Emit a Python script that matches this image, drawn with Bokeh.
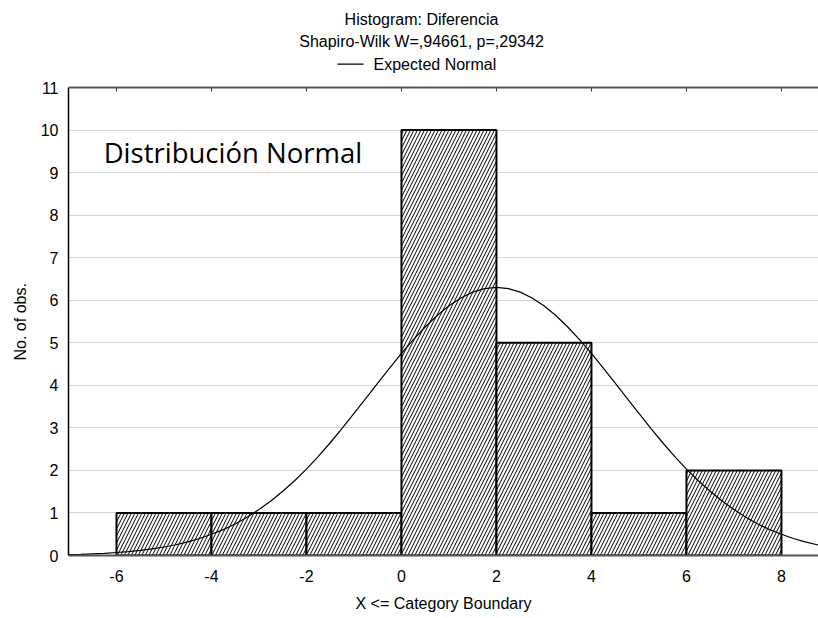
from bokeh.plotting import figure
from bokeh.models import Range1d, FixedTicker, Label, Arrow, Span, Title
from bokeh.embed import file_html
from bokeh.resources import INLINE

# ---- data ----
bin_left = [-6, -4, -2, 0, 2, 4, 6]
bin_right = [-4, -2, 0, 2, 4, 6, 8]
counts = [1, 1, 1, 10, 5, 1, 2]

x_ticks = [-6, -4, -2, 0, 2, 4, 6, 8]
y_ticks = [0, 1, 2, 3, 4, 5, 6, 7, 8, 9, 10, 11]
y_max = 11

# Expected Normal curve, every 0.25 units
curve_x = [-7.0, -6.75, -6.5, -6.25, -6.0, -5.75, -5.5, -5.25, -5.0, -4.75,
           -4.5, -4.25, -4.0, -3.75, -3.5, -3.25, -3.0, -2.75, -2.5, -2.25,
           -2.0, -1.75, -1.5, -1.25, -1.0, -0.75, -0.5, -0.25, 0.0, 0.25,
           0.5, 0.75, 1.0, 1.25, 1.5, 1.75, 2.0, 2.25, 2.5, 2.75,
           3.0, 3.25, 3.5, 3.75, 4.0, 4.25, 4.5, 4.75, 5.0, 5.25,
           5.5, 5.75, 6.0, 6.25, 6.5, 6.75, 7.0, 7.25, 7.5, 7.75,
           8.0, 8.25, 8.5, 8.75, 9.0]
curve_y = [0.02, 0.028, 0.04, 0.051, 0.07, 0.09, 0.12, 0.154, 0.20, 0.252,
           0.32, 0.399, 0.50, 0.609, 0.74, 0.899, 1.08, 1.279, 1.51, 1.758,
           2.03, 2.332, 2.65, 2.987, 3.34, 3.692, 4.05, 4.405, 4.75, 5.074,
           5.37, 5.642, 5.87, 6.054, 6.19, 6.272, 6.30, 6.272, 6.19, 6.054,
           5.87, 5.642, 5.37, 5.074, 4.75, 4.405, 4.05, 3.692, 3.34, 2.987,
           2.65, 2.332, 2.03, 1.758, 1.51, 1.279, 1.08, 0.899, 0.74, 0.609,
           0.50, 0.399, 0.32, 0.252, 0.20]

title_line1 = "Histogram: Diferencia"
title_line2 = "Shapiro-Wilk W=,94661, p=,29342"
legend_label = "Expected Normal"
note_text = "Distribución Normal"
x_label = "X <= Category Boundary"
y_label = "No. of obs."

FONT = "Liberation Sans"

# frame covers the whole upper area so that the title texts can live inside it
p = figure(width=818, height=618, title=None,
           x_range=Range1d(-7.01, 8.78), y_range=Range1d(0, 13.045),
           output_backend="svg", toolbar_location=None,
           min_border_left=68, min_border_right=0,
           min_border_top=0, min_border_bottom=63)
p.outline_line_color = None
p.background_fill_color = "white"
p.border_fill_color = "white"

# grid
p.xgrid.visible = False
p.ygrid.ticker = FixedTicker(ticks=y_ticks[1:-1])
p.ygrid.grid_line_color = "#a8a8a8"
p.ygrid.grid_line_dash = "1 1"
p.ygrid.grid_line_width = 1

# x axis (below)
xa = p.xaxis[0]
xa.ticker = FixedTicker(ticks=x_ticks)
xa.major_label_overrides = {t: str(t) for t in x_ticks}
xa.major_tick_in = 0
xa.major_tick_out = 0
xa.minor_tick_line_color = None
xa.axis_line_color = "#555555"
xa.axis_line_width = 2
xa.major_label_text_font = FONT
xa.major_label_text_font_size = "16px"
xa.major_label_text_color = "black"
xa.major_label_standoff = 14
xa.axis_label = x_label
xa.axis_label_text_font = FONT
xa.axis_label_text_font_size = "16px"
xa.axis_label_text_font_style = "normal"
xa.axis_label_text_color = "black"
xa.axis_label_standoff = 10

# y axis (left), only from 0 to 11
ya = p.yaxis[0]
ya.bounds = (0, y_max)
ya.ticker = FixedTicker(ticks=y_ticks)
ya.major_label_overrides = {t: str(t) for t in y_ticks}
ya.major_tick_in = 0
ya.major_tick_out = 0
ya.minor_tick_line_color = None
ya.axis_line_color = "black"
ya.axis_line_width = 1.5
ya.major_label_text_font = FONT
ya.major_label_text_font_size = "16px"
ya.major_label_text_color = "black"
ya.major_label_standoff = 10

# y axis title, centred on the 0..11 part of the frame
p.add_layout(Title(text=y_label, align="left", offset=195, standoff=18,
                   text_font=FONT, text_font_size="16px",
                   text_font_style="normal", text_color="black"), "left")

# top border of the plot area with small inward ticks
p.add_layout(Span(location=y_max, dimension="width", line_color="#555555", line_width=2))
tick_len = 4 / 42.545
p.segment(x0=x_ticks, y0=[y_max] * len(x_ticks), x1=x_ticks,
          y1=[y_max - tick_len] * len(x_ticks), line_color="#333333", line_width=1)

# histogram bars
p.quad(left=bin_left, right=bin_right, bottom=0, top=counts,
       fill_color="white", line_color="black", line_width=2,
       hatch_pattern="/", hatch_color="black", hatch_scale=7, hatch_weight=1)

# expected normal curve
p.line(curve_x, curve_y, line_color="black", line_width=1.2)

# titles and legend
p.add_layout(Label(x=0.422, y=12.605, text=title_line1, text_align="center",
                   text_baseline="middle", text_font=FONT, text_font_size="16px",
                   text_color="black"))
p.add_layout(Label(x=0.422, y=12.081, text=title_line2, text_align="center",
                   text_baseline="middle", text_font=FONT, text_font_size="16px",
                   text_color="black"))
p.add_layout(Arrow(start=None, end=None, x_start=-1.347, y_start=11.548,
                   x_end=-0.799, y_end=11.548, line_color="black", line_width=1.2))
p.add_layout(Label(x=-0.589, y=11.548, text=legend_label, text_align="left",
                   text_baseline="middle", text_font=FONT, text_font_size="16px",
                   text_color="black"))

# annotation inside plot
p.add_layout(Label(x=-6.27, y=9.472, text=note_text, text_align="left",
                   text_baseline="middle", text_font="Open Sans",
                   text_font_size="27.5px", text_color="black"))

open("out.html", "w").write(file_html(p, INLINE))
